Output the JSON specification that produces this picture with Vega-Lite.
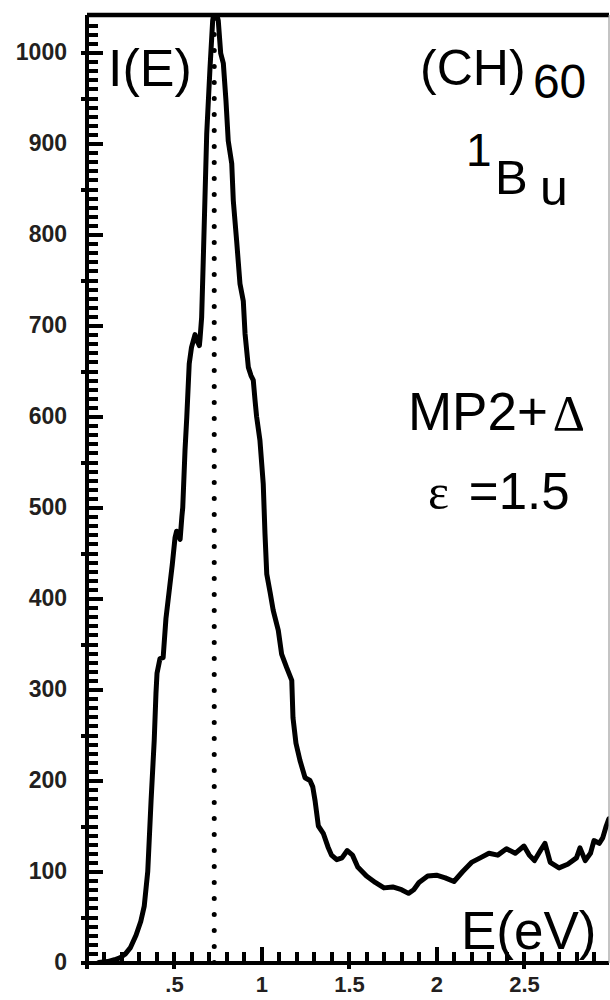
{
  "$schema": "https://vega.github.io/schema/vega-lite/v6.json",
  "width": 522,
  "height": 948,
  "autosize": "none",
  "padding": {"left": 86.5, "top": 14.5, "right": 1.5, "bottom": 37},
  "background": "white",
  "config": {
    "axis": {"grid": false}
  },
  "datasets": {
    "curve": [
      {"E": 0.07, "I": 0}, {"E": 0.12, "I": 1}, {"E": 0.16, "I": 3}, {"E": 0.19, "I": 5},
      {"E": 0.22, "I": 9}, {"E": 0.25, "I": 16}, {"E": 0.283, "I": 30}, {"E": 0.31, "I": 45},
      {"E": 0.33, "I": 62}, {"E": 0.35, "I": 100}, {"E": 0.369, "I": 178}, {"E": 0.387, "I": 244},
      {"E": 0.397, "I": 296}, {"E": 0.403, "I": 318}, {"E": 0.42, "I": 334}, {"E": 0.438, "I": 335},
      {"E": 0.454, "I": 378}, {"E": 0.473, "I": 409}, {"E": 0.49, "I": 437}, {"E": 0.506, "I": 467},
      {"E": 0.515, "I": 474}, {"E": 0.525, "I": 470}, {"E": 0.535, "I": 465}, {"E": 0.545, "I": 490},
      {"E": 0.55, "I": 500}, {"E": 0.563, "I": 563}, {"E": 0.573, "I": 599}, {"E": 0.587, "I": 658},
      {"E": 0.6, "I": 676}, {"E": 0.62, "I": 690}, {"E": 0.635, "I": 682}, {"E": 0.645, "I": 678},
      {"E": 0.649, "I": 686}, {"E": 0.658, "I": 709}, {"E": 0.667, "I": 770}, {"E": 0.687, "I": 911},
      {"E": 0.706, "I": 984}, {"E": 0.721, "I": 1035}, {"E": 0.734, "I": 1050}, {"E": 0.753, "I": 1035},
      {"E": 0.767, "I": 999}, {"E": 0.782, "I": 988}, {"E": 0.797, "I": 947}, {"E": 0.81, "I": 903},
      {"E": 0.83, "I": 878}, {"E": 0.839, "I": 837}, {"E": 0.858, "I": 793}, {"E": 0.877, "I": 746},
      {"E": 0.896, "I": 727}, {"E": 0.906, "I": 691}, {"E": 0.925, "I": 654}, {"E": 0.94, "I": 645},
      {"E": 0.953, "I": 640}, {"E": 0.963, "I": 618}, {"E": 0.972, "I": 600}, {"E": 0.991, "I": 574},
      {"E": 1.01, "I": 526}, {"E": 1.02, "I": 471}, {"E": 1.03, "I": 427}, {"E": 1.049, "I": 407},
      {"E": 1.067, "I": 387}, {"E": 1.096, "I": 365}, {"E": 1.115, "I": 339}, {"E": 1.144, "I": 324},
      {"E": 1.173, "I": 310}, {"E": 1.18, "I": 269}, {"E": 1.197, "I": 241}, {"E": 1.22, "I": 222},
      {"E": 1.249, "I": 203}, {"E": 1.277, "I": 200}, {"E": 1.293, "I": 193}, {"E": 1.306, "I": 178},
      {"E": 1.325, "I": 150}, {"E": 1.353, "I": 142}, {"E": 1.38, "I": 127}, {"E": 1.4, "I": 118},
      {"E": 1.43, "I": 113}, {"E": 1.46, "I": 115}, {"E": 1.49, "I": 123}, {"E": 1.52, "I": 118},
      {"E": 1.55, "I": 105}, {"E": 1.6, "I": 95}, {"E": 1.65, "I": 88}, {"E": 1.7, "I": 82},
      {"E": 1.75, "I": 83}, {"E": 1.8, "I": 80}, {"E": 1.84, "I": 76}, {"E": 1.87, "I": 80},
      {"E": 1.9, "I": 88}, {"E": 1.95, "I": 95}, {"E": 2.0, "I": 96}, {"E": 2.05, "I": 93},
      {"E": 2.1, "I": 89}, {"E": 2.15, "I": 100}, {"E": 2.2, "I": 110}, {"E": 2.25, "I": 115},
      {"E": 2.3, "I": 120}, {"E": 2.35, "I": 118}, {"E": 2.4, "I": 125}, {"E": 2.45, "I": 120},
      {"E": 2.5, "I": 128}, {"E": 2.53, "I": 118}, {"E": 2.56, "I": 112}, {"E": 2.6, "I": 125},
      {"E": 2.62, "I": 131}, {"E": 2.65, "I": 110}, {"E": 2.7, "I": 104}, {"E": 2.75, "I": 108},
      {"E": 2.8, "I": 115}, {"E": 2.82, "I": 126}, {"E": 2.85, "I": 112}, {"E": 2.88, "I": 120},
      {"E": 2.9, "I": 134}, {"E": 2.93, "I": 131}, {"E": 2.95, "I": 137}, {"E": 2.97, "I": 150},
      {"E": 2.985, "I": 158}
    ]
  },
  "layer": [
    {
      "data": {"name": "curve"},
      "mark": {"type": "point", "opacity": 0, "size": 1},
      "encoding": {
        "x": {"field": "E", "type": "quantitative", "scale": {"domain": [0, 2.983], "nice": false, "zero": false}, "axis": {
          "orient": "bottom", "values": [0.1,0.2,0.3,0.4,0.5,0.6,0.7,0.8,0.9,1.0,1.1,1.2,1.3,1.4,1.5,1.6,1.7,1.8,1.9,2.0,2.1,2.2,2.3,2.4,2.5,2.6,2.7,2.8,2.9],
          "labels": false, "domain": false, "ticks": true, "tickSize": -11, "tickWidth": 4, "tickColor": "black", "zindex": 2, "title": null}},
        "y": {"field": "I", "type": "quantitative", "scale": {"domain": [0, 1041.8], "nice": false}, "axis": {
          "orient": "left", "values": [10,20,30,40,50,60,70,80,90,100,110,120,130,140,150,160,170,180,190,200,210,220,230,240,250,260,270,280,290,300,310,320,330,340,350,360,370,380,390,400,410,420,430,440,450,460,470,480,490,500,510,520,530,540,550,560,570,580,590,600,610,620,630,640,650,660,670,680,690,700,710,720,730,740,750,760,770,780,790,800,810,820,830,840,850,860,870,880,890,900,910,920,930,940,950,960,970,980,990,1000,1010,1020,1030],
          "labels": false, "domain": false, "ticks": true, "tickSize": -11, "tickWidth": 4, "tickColor": "black", "zindex": 2, "title": null}}
      }
    },
    {
      "data": {"name": "curve"},
      "mark": {"type": "point", "opacity": 0, "size": 1},
      "encoding": {
        "x": {"field": "E", "type": "quantitative", "axis": {
          "orient": "bottom", "values": [1, 2],
          "labels": false, "domain": false, "ticks": true, "tickSize": -16, "tickWidth": 4, "tickColor": "black", "zindex": 2, "title": null}},
        "y": {"field": "I", "type": "quantitative", "axis": {
          "orient": "left", "values": [100, 200, 300, 400, 500, 600, 700, 800, 900, 1000],
          "labels": false, "domain": false, "ticks": true, "tickSize": -16, "tickWidth": 4, "tickColor": "black", "zindex": 2, "title": null}}
      }
    },
    {
      "data": {"name": "curve"},
      "mark": {"type": "point", "opacity": 0, "size": 1},
      "encoding": {
        "x": {"field": "E", "type": "quantitative", "axis": {
          "orient": "bottom", "values": [0, 0.5, 1.5, 2.5],
          "labels": false, "domain": false, "ticks": true, "tickSize": 6, "tickWidth": 4, "tickColor": "black", "zindex": 2, "title": null}},
        "y": {"field": "I", "type": "quantitative", "axis": {
          "orient": "left", "values": [0, 50, 150, 250, 350, 450, 550, 650, 750, 850, 950, 1000],
          "labels": false, "domain": false, "ticks": true, "tickSize": 6, "tickWidth": 4, "tickColor": "black", "zindex": 2, "title": null}}
      }
    },
    {
      "data": {"name": "curve"},
      "mark": {"type": "point", "opacity": 0, "size": 1},
      "encoding": {
        "x": {"field": "E", "type": "quantitative", "axis": {
          "orient": "top", "labels": false, "ticks": false, "domain": true, "domainColor": "black", "domainWidth": 4.5, "title": null}},
        "y": {"field": "I", "type": "quantitative", "axis": {
          "orient": "right", "labels": false, "ticks": false, "domain": true, "domainColor": "#9a9a9a", "domainWidth": 1, "title": null}}
      }
    },
    {
      "data": {"name": "curve"},
      "mark": {"type": "line", "stroke": "black", "strokeWidth": 5, "strokeJoin": "round", "strokeCap": "round", "clip": true},
      "encoding": {
        "x": {
          "field": "E", "type": "quantitative",
          "axis": {
            "orient": "bottom", "values": [0.5, 1, 1.5, 2, 2.5],
            "labelExpr": "datum.value == 0.5 ? '.5' : format(datum.value, '~g')",
            "ticks": false, "domain": true, "domainColor": "black", "domainWidth": 4,
            "labelFont": "Liberation Sans", "labelFontWeight": "bold", "labelFontSize": 22,
            "labelColor": "#231f20", "labelPadding": 12, "title": null
          }
        },
        "y": {
          "field": "I", "type": "quantitative",
          "axis": {
            "orient": "left", "values": [0, 100, 200, 300, 400, 500, 600, 700, 800, 900, 1000],
            "format": "d",
            "ticks": false, "domain": true, "domainColor": "black", "domainWidth": 4,
            "labelFont": "Liberation Sans", "labelFontWeight": "bold", "labelFontSize": 23,
            "labelColor": "#231f20", "labelPadding": 20, "title": null
          }
        }
      }
    },
    {
      "data": {"values": [{}]},
      "mark": {"type": "rule", "strokeDash": [0, 16], "strokeWidth": 5, "strokeCap": "round", "color": "black"},
      "encoding": {
        "x": {"datum": 0.73, "type": "quantitative", "axis": null},
        "y": {"datum": 0, "type": "quantitative", "axis": null},
        "y2": {"datum": 1041}
      }
    },
    {
      "data": {"values": [{}]},
      "mark": {"type": "text", "font": "Liberation Sans", "fontSize": 52, "align": "left", "baseline": "alphabetic", "color": "black"},
      "encoding": {
        "text": {"value": "I(E)"},
        "x": {"datum": 0.123, "type": "quantitative", "axis": null},
        "y": {"datum": 963, "type": "quantitative", "axis": null}
      }
    },
    {
      "data": {"values": [{}]},
      "mark": {"type": "text", "font": "Liberation Sans", "fontSize": 50, "align": "left", "baseline": "alphabetic", "color": "black"},
      "encoding": {
        "text": {"value": "(CH)"},
        "x": {"datum": 1.906, "type": "quantitative", "axis": null},
        "y": {"datum": 964, "type": "quantitative", "axis": null}
      }
    },
    {
      "data": {"values": [{}]},
      "mark": {"type": "text", "font": "Liberation Sans", "fontSize": 48, "align": "left", "baseline": "alphabetic", "color": "black"},
      "encoding": {
        "text": {"value": "60"},
        "x": {"datum": 2.551, "type": "quantitative", "axis": null},
        "y": {"datum": 949.5, "type": "quantitative", "axis": null}
      }
    },
    {
      "data": {"values": [{}]},
      "mark": {"type": "text", "font": "Liberation Sans", "fontSize": 46, "align": "left", "baseline": "alphabetic", "color": "black"},
      "encoding": {
        "text": {"value": "1"},
        "x": {"datum": 2.169, "type": "quantitative", "axis": null},
        "y": {"datum": 875.8, "type": "quantitative", "axis": null}
      }
    },
    {
      "data": {"values": [{}]},
      "mark": {"type": "text", "font": "Liberation Sans", "fontSize": 49, "align": "left", "baseline": "alphabetic", "color": "black"},
      "encoding": {
        "text": {"value": "B"},
        "x": {"datum": 2.334, "type": "quantitative", "axis": null},
        "y": {"datum": 845, "type": "quantitative", "axis": null}
      }
    },
    {
      "data": {"values": [{}]},
      "mark": {"type": "text", "font": "Liberation Sans", "fontSize": 50, "align": "left", "baseline": "alphabetic", "color": "black"},
      "encoding": {
        "text": {"value": "u"},
        "x": {"datum": 2.591, "type": "quantitative", "axis": null},
        "y": {"datum": 833, "type": "quantitative", "axis": null}
      }
    },
    {
      "data": {"values": [{}]},
      "mark": {"type": "text", "font": "Liberation Sans", "fontSize": 53, "align": "left", "baseline": "alphabetic", "color": "black"},
      "encoding": {
        "text": {"value": "MP2+"},
        "x": {"datum": 1.837, "type": "quantitative", "axis": null},
        "y": {"datum": 585.7, "type": "quantitative", "axis": null}
      }
    },
    {
      "data": {"values": [{}]},
      "mark": {"type": "text", "font": "Liberation Serif", "fontSize": 50, "align": "left", "baseline": "alphabetic", "color": "black"},
      "encoding": {
        "text": {"value": "Δ"},
        "x": {"datum": 2.665, "type": "quantitative", "axis": null},
        "y": {"datum": 585.7, "type": "quantitative", "axis": null}
      }
    },
    {
      "data": {"values": [{}]},
      "mark": {"type": "text", "font": "Liberation Serif", "fontSize": 50, "align": "left", "baseline": "alphabetic", "color": "black"},
      "encoding": {
        "text": {"value": "ε"},
        "x": {"datum": 1.951, "type": "quantitative", "axis": null},
        "y": {"datum": 498.9, "type": "quantitative", "axis": null}
      }
    },
    {
      "data": {"values": [{}]},
      "mark": {"type": "text", "font": "Liberation Sans", "fontSize": 51, "align": "left", "baseline": "alphabetic", "color": "black"},
      "encoding": {
        "text": {"value": "=1.5"},
        "x": {"datum": 2.185, "type": "quantitative", "axis": null},
        "y": {"datum": 498.9, "type": "quantitative", "axis": null}
      }
    },
    {
      "data": {"values": [{}]},
      "mark": {"type": "text", "font": "Liberation Sans", "fontSize": 53, "align": "left", "baseline": "alphabetic", "color": "black"},
      "encoding": {
        "text": {"value": "E(eV)"},
        "x": {"datum": 2.14, "type": "quantitative", "axis": null},
        "y": {"datum": 15, "type": "quantitative", "axis": null}
      }
    }
  ],
  "resolve": {"axis": {"x": "independent", "y": "independent"}}
}
